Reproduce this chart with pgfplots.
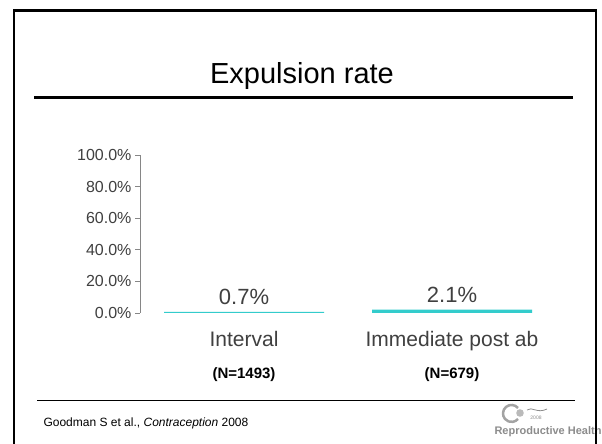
\documentclass[border=0pt]{standalone}
\usepackage{fontspec}
\setmainfont{Liberation Sans}
\usepackage{pgfplots}
\pgfplotsset{compat=1.18}
\definecolor{barcyan}{HTML}{33CCCC}
\definecolor{txtgray}{HTML}{404040}
\definecolor{axgray}{HTML}{868686}
\definecolor{logogray}{HTML}{8C8C8C}

\begin{document}
\begin{tikzpicture}
\useasboundingbox (0pt,0pt) rectangle (602pt,444pt);
\fill[white] (0pt,0pt) rectangle (602pt,444pt);

% title and rules
\node[font=\fontsize{29}{30}\selectfont] at (302pt,368pt) {Expulsion rate};
\draw[line width=3pt] (34pt,346.5pt) -- (573pt,346.5pt);
\draw[line width=1pt] (37pt,43pt) -- (575pt,43pt);
\node[anchor=west, font=\fontsize{12}{12}\selectfont] at (40pt,21pt)
  {Goodman S et al., \textit{Contraception} 2008};

% logo
\draw[logogray!80, line width=2.5pt] (518pt,36pt) arc (40:320:8.5pt);
\fill[logogray!60] (520pt,31pt) circle (3.8pt);
\draw[logogray, line width=0.8pt] (527pt,34pt) .. controls (532pt,38pt) and (537pt,30pt) .. (547pt,35pt);
\node[logogray, font=\fontsize{5}{5}\selectfont] at (536pt,26pt) {2008};
\node[logogray, anchor=west, font=\fontsize{11}{11}\selectfont\bfseries] at (491pt,12pt) {Reproductive Health};

% slide frame
\draw[line width=2.7pt] (14pt,0pt) -- (14pt,433.5pt) -- (596pt,433.5pt) -- (596pt,0pt);

\begin{axis}[
  at={(140pt,131pt)}, anchor=south west,
  scale only axis, width=416pt, height=158pt,
  ybar, bar width=160pt,
  xmin=-0.5, xmax=1.5, ymin=0, ymax=100,
  clip=false,
  axis lines*=left,
  x axis line style={draw=none},
  y axis line style={axgray, line width=0.8pt},
  xtick={0,1},
  xticklabels={Interval, Immediate post ab},
  xtick style={draw=none},
  xticklabel style={font=\fontsize{21}{21}\selectfont, text=txtgray, yshift=-10pt},
  ytick={0,20,40,60,80,100},
  yticklabels={0.0\%,20.0\%,40.0\%,60.0\%,80.0\%,100.0\%},
  ytick style={axgray, line width=0.8pt},
  tick align=outside,
  major tick length=5pt,
  yticklabel style={font=\fontsize{16}{16}\selectfont, text=txtgray},
  nodes near coords={\pgfmathprintnumber[fixed,fixed zerofill,precision=1,assume math mode=true]{\pgfplotspointmeta}\%},
  nodes near coords style={font=\fontsize{22}{22}\selectfont, text=txtgray, anchor=south, yshift=4pt},
]
\addplot[fill=barcyan, draw=none] coordinates {(0,0.7) (1,2.1)};
\node[font=\fontsize{15}{15}\selectfont\bfseries] at ([yshift=-62pt]axis cs:0,0) {(N=1493)};
\node[font=\fontsize{15}{15}\selectfont\bfseries] at ([yshift=-62pt]axis cs:1,0) {(N=679)};
\end{axis}
\end{tikzpicture}
\end{document}
